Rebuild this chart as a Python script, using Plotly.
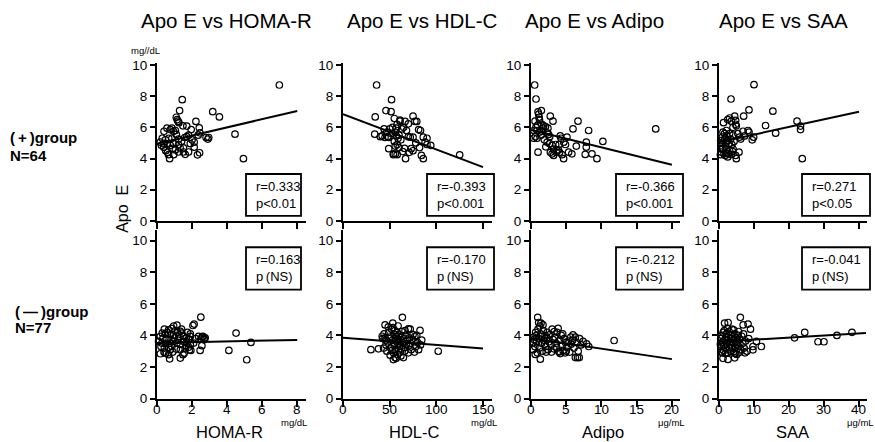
import plotly.graph_objects as go

W, H = 875, 442          # picture size (reference pixels)
H_CSS = 451              # page height that the photographed view covers
FONT = "Liberation Sans, Arial, Noto Sans CJK JP, sans-serif"

# ---------------- data ----------------
titles = ["Apo E vs HOMA-R", "Apo E vs HDL-C", "Apo E vs Adipo", "Apo E vs SAA"]
x_names = ["HOMA-R", "HDL-C", "Adipo", "SAA"]
x_units = ["mg/dL", "mg/dL", "μg/mL", "μg/mL"]
x_ticks = [[0, 2, 4, 6, 8], [0, 50, 100, 150], [0, 5, 10, 15, 20], [0, 10, 20, 30, 40]]
y_ticks = [0, 2, 4, 6, 8, 10]
row_labels = [["(\u2009+\u2009)group", "N=64"], ["(\u2009\u2014\u2009)group", "N=77"]]

stats_pos = [["r=0.333", "p<0.01"], ["r=-0.393", "p<0.001"], ["r=-0.366", "p<0.001"], ["r=0.271", "p<0.05"]]
stats_neg = [["r=0.163", "p\u2009(NS)"], ["r=-0.170", "p\u2009(NS)"], ["r=-0.212", "p\u2009(NS)"], ["r=-0.041", "p\u2009(NS)"]]

# (+) group, N=64
homa_pos_x = [6.98, 1.44, 1.29, 3.18, 3.56, 1.10, 1.15, 1.20, 1.25, 2.22, 1.70, 1.48, 2.41, 1.95, 0.57, 0.76,
              0.85, 0.40, 0.95, 1.05, 4.45, 2.45, 2.35, 2.80, 2.95, 2.90, 1.58, 1.70, 1.80, 0.30, 0.48, 0.67,
              0.85, 1.23, 0.19, 0.38, 0.57, 0.95, 1.23, 2.12, 2.12, 0.38, 0.76, 0.90, 1.32, 1.51, 1.23, 1.51,
              1.80, 0.66, 0.95, 1.61, 2.43, 2.31, 0.72, 4.93, 0.50, 1.05, 1.40, 2.00, 0.60, 1.10, 0.25, 1.90]
homa_pos_y = [8.72, 7.78, 7.08, 7.01, 6.67, 6.65, 6.50, 6.40, 6.30, 6.38, 6.08, 6.10, 5.97, 5.86, 5.95, 5.86,
              5.95, 5.75, 5.75, 5.80, 5.56, 5.65, 5.50, 5.35, 5.35, 5.25, 5.35, 5.40, 5.50, 5.30, 5.20, 5.30,
              5.30, 5.25, 5.05, 4.95, 4.95, 4.95, 4.90, 5.05, 4.73, 4.73, 4.85, 4.65, 4.68, 4.68, 4.42, 4.42,
              4.42, 4.25, 4.25, 4.27, 4.37, 4.24, 3.99, 3.99, 4.50, 4.55, 5.10, 5.20, 4.40, 5.55, 4.85, 4.95]
hdl_pos_x = [36, 52, 46, 51.5, 34.5, 55, 61, 66.5, 70, 75, 77, 79, 34, 42, 45, 49, 58, 57, 56, 50, 53, 81, 83,
             72, 75, 86, 88, 90, 94, 49, 54, 58, 64, 73, 75, 54, 56, 67, 84, 86, 125, 60, 62, 55, 58, 60, 68,
             70, 47, 52, 44, 63, 78, 82, 66, 48, 57, 59, 65, 71, 90, 40, 56, 61]
hdl_pos_y = [8.72, 7.78, 7.08, 7.01, 6.67, 6.57, 6.46, 6.38, 6.23, 6.72, 6.38, 6.38, 5.56, 5.45, 5.35, 5.35,
             6.20, 5.95, 5.70, 5.90, 6.00, 5.86, 5.80, 5.37, 5.37, 5.37, 5.05, 4.90, 4.85, 4.63, 4.30, 4.25,
             4.45, 4.63, 4.50, 4.25, 4.28, 3.99, 4.20, 3.99, 4.24, 5.50, 5.20, 5.10, 4.90, 4.70, 5.80, 5.40,
             5.70, 5.60, 5.90, 5.90, 5.00, 4.70, 4.65, 5.40, 5.45, 5.30, 6.00, 4.40, 5.30, 5.40, 4.80, 6.40]
adipo_pos_x = [0.52, 0.71, 1.00, 1.47, 1.10, 1.15, 1.20, 2.74, 3.12, 6.67, 0.57, 5.96, 8.18, 17.7, 1.55, 1.80,
               2.05, 0.40, 0.85, 1.25, 1.55, 0.40, 0.62, 0.85, 2.30, 2.50, 2.65, 4.15, 4.25, 5.10, 7.85, 7.85,
               10.2, 4.65, 4.90, 2.30, 2.65, 3.00, 3.20, 3.70, 3.90, 2.75, 3.00, 3.20, 4.05, 4.40, 6.43, 5.34,
               5.80, 7.70, 8.65, 9.36, 4.63, 1.00, 1.90, 1.40, 0.70, 3.50, 2.10, 4.00, 1.70, 0.95, 3.60, 2.40]
adipo_pos_y = [8.72, 7.82, 7.00, 7.08, 6.85, 6.65, 6.50, 6.72, 6.40, 6.40, 6.40, 5.90, 5.80, 5.90, 6.20, 6.10,
               6.05, 5.80, 5.80, 5.70, 5.75, 5.30, 5.40, 5.30, 5.65, 5.55, 5.40, 5.45, 5.30, 5.37, 5.05, 4.73,
               5.10, 5.05, 4.90, 5.05, 4.95, 4.85, 4.60, 4.50, 4.55, 4.40, 4.30, 4.20, 4.40, 4.25, 4.80, 4.41,
               4.30, 4.26, 4.30, 3.99, 3.99, 4.41, 5.20, 5.50, 6.00, 4.90, 4.75, 4.90, 5.95, 6.15, 4.40, 5.95]
saa_pos_x = [10.0, 3.43, 8.57, 15.4, 7.05, 2.48, 3.05, 3.52, 4.48, 4.76, 4.00, 4.95, 4.76, 13.3, 22.3, 23.3,
             23.3, 16.2, 8.30, 8.57, 6.86, 1.14, 2.10, 3.05, 4.00, 9.90, 9.50, 5.90, 7.33, 0.95, 1.62, 2.57,
             3.33, 0.48, 1.14, 1.90, 2.86, 1.14, 2.10, 3.05, 4.00, 0.67, 1.43, 2.29, 3.52, 5.71, 4.76, 4.95,
             23.8, 0.40, 1.80, 2.70, 0.90, 1.60, 2.20, 3.70, 4.30, 5.40, 6.20, 0.60, 2.50, 3.90, 1.30, 2.00]
saa_pos_y = [8.74, 7.82, 7.12, 7.04, 6.72, 6.50, 6.60, 6.40, 6.72, 6.45, 6.00, 6.10, 6.20, 6.12, 6.40, 6.08,
             5.86, 5.63, 5.80, 5.70, 5.75, 5.70, 5.80, 5.60, 5.50, 5.37, 5.20, 5.37, 5.45, 5.37, 5.25, 5.15,
             5.25, 5.15, 4.95, 4.80, 4.95, 4.67, 4.58, 4.52, 4.62, 4.41, 4.30, 4.35, 4.26, 4.41, 4.20, 3.99,
             3.99, 4.25, 4.20, 4.30, 4.60, 5.60, 5.45, 4.90, 5.10, 5.60, 5.25, 5.00, 4.10, 4.45, 6.30, 5.05]

# (-) group, N=77
homa_neg_x = [2.50, 2.12, 2.05, 1.14, 0.42, 0.66, 0.85, 1.04, 1.17, 1.33, 1.42, 1.74, 1.90, 4.51, 0.30, 0.47,
              0.76, 0.95, 0.19, 0.34, 0.57, 0.80, 1.52, 1.67, 1.80, 1.90, 2.37, 2.56, 2.69, 2.62, 2.50, 2.69,
              0.09, 0.28, 0.47, 0.72, 0.95, 1.14, 1.33, 1.52, 1.71, 1.90, 2.09, 2.56, 5.36, 0.23, 0.42, 0.66,
              0.85, 1.10, 1.33, 1.61, 1.86, 1.93, 2.46, 4.10, 0.47, 0.19, 0.66, 1.48, 1.55, 0.72, 1.33, 5.12,
              1.00, 1.20, 0.60, 1.40, 2.20, 0.40, 0.90, 1.25, 0.75, 1.65, 2.75, 0.95, 1.80]
homa_neg_y = [5.16, 4.72, 4.63, 4.65, 4.40, 4.36, 4.45, 4.30, 4.20, 4.26, 4.15, 4.20, 4.10, 4.15, 4.15, 4.08,
              4.04, 4.02, 3.94, 3.83, 3.77, 3.73, 3.94, 3.83, 3.79, 3.94, 3.94, 3.90, 3.83, 3.94, 3.77, 3.73,
              3.62, 3.52, 3.47, 3.52, 3.62, 3.52, 3.43, 3.62, 3.52, 3.41, 3.52, 3.35, 3.56, 3.30, 3.20, 3.26,
              3.30, 3.14, 3.09, 3.16, 3.09, 3.05, 3.05, 3.05, 2.88, 2.84, 2.78, 2.78, 2.88, 2.52, 2.57, 2.46,
              3.85, 3.70, 4.20, 4.40, 3.80, 2.95, 2.95, 3.95, 3.10, 3.35, 3.85, 4.60, 3.25]
hdl_neg_x = [63.6, 45.1, 53.3, 70.0, 82.5, 29.9, 102, 84.3, 64.7, 54.0, 55.8, 38.0, 42.0, 42.5, 44.0, 45.0,
             46.0, 47.0, 48.0, 49.0, 50.0, 51.0, 52.0, 53.0, 54.0, 54.5, 55.0, 55.5, 56.0, 56.5, 57.0, 57.5,
             58.0, 58.5, 59.0, 59.5, 60.0, 60.5, 61.0, 62.0, 62.5, 63.0, 64.0, 65.0, 66.0, 67.0, 68.0, 69.0,
             70.0, 71.0, 72.0, 72.5, 73.0, 74.0, 75.0, 76.0, 77.0, 78.0, 79.0, 80.0, 81.0, 83.0, 43.5, 50.5,
             52.5, 57.0, 61.5, 66.5, 48.5, 53.5, 59.0, 62.0, 46.0, 70.5, 76.5, 65.5, 55.0]
hdl_neg_y = [5.15, 4.67, 4.78, 4.42, 4.32, 3.10, 3.00, 3.70, 2.60, 2.47, 2.60, 3.15, 3.95, 3.80, 4.10, 3.85,
             3.40, 3.00, 3.60, 4.20, 3.90, 3.20, 4.40, 3.70, 2.90, 4.10, 3.50, 4.30, 3.80, 3.10, 3.95, 3.60,
             4.20, 2.80, 3.40, 3.75, 4.05, 3.30, 3.60, 3.90, 3.15, 4.25, 3.55, 3.80, 3.00, 4.00, 3.45, 3.70,
             2.90, 3.85, 4.40, 3.50, 3.10, 3.75, 4.05, 3.60, 3.95, 3.30, 4.00, 3.55, 3.10, 3.40, 3.20, 2.75,
             3.05, 2.55, 2.95, 4.30, 4.55, 4.50, 4.60, 2.70, 3.70, 3.35, 2.95, 3.25, 3.35]
adipo_neg_x = [0.95, 1.09, 1.42, 1.70, 11.8, 1.32, 6.30, 6.60, 6.85, 7.40, 7.90, 5.96, 8.20, 0.30, 0.40, 0.55,
               0.65, 0.80, 0.90, 1.00, 1.10, 1.20, 1.35, 1.50, 1.60, 1.75, 1.85, 2.00, 2.10, 2.25, 2.40, 2.55,
               2.70, 2.85, 3.00, 3.10, 3.25, 3.40, 3.55, 3.70, 3.85, 3.95, 4.05, 4.15, 4.30, 4.40, 4.55, 4.70,
               4.90, 5.10, 5.30, 5.50, 5.70, 5.90, 6.10, 6.30, 6.50, 6.70, 6.90, 7.10, 0.35, 0.60, 1.25, 2.30,
               2.90, 3.30, 4.00, 4.50, 5.00, 0.75, 1.55, 2.15, 3.65, 4.85, 5.65, 0.45, 1.95]
adipo_neg_y = [5.15, 4.82, 4.78, 4.67, 3.68, 2.50, 2.60, 2.60, 2.60, 3.62, 3.47, 4.04, 3.30, 3.10, 3.90, 3.30,
               4.20, 3.60, 2.90, 4.40, 3.80, 3.20, 4.10, 3.50, 3.00, 4.30, 3.70, 4.00, 3.30, 3.85, 3.10, 3.60,
               4.05, 3.40, 4.40, 3.75, 3.15, 3.90, 3.50, 4.20, 4.45, 3.00, 3.70, 2.85, 4.00, 3.35, 3.05, 3.80,
               3.55, 3.25, 3.65, 2.95, 3.45, 3.70, 3.20, 3.90, 3.55, 3.00, 3.80, 3.40, 3.55, 2.80, 4.60, 4.20,
               2.95, 4.25, 2.95, 4.10, 3.00, 4.00, 3.95, 2.95, 3.25, 2.90, 3.90, 3.75, 3.45]
saa_neg_x = [6.10, 1.60, 2.60, 6.90, 8.30, 9.00, 12.1, 10.7, 21.6, 24.5, 28.3, 30.0, 33.7, 38.0, 1.14, 2.57,
             4.48, 9.70, 9.70, 0.50, 0.70, 0.90, 1.10, 1.30, 1.50, 1.70, 1.90, 2.10, 2.30, 2.50, 2.70, 2.90,
             3.10, 3.30, 3.50, 3.70, 3.90, 4.10, 4.30, 4.50, 4.70, 4.90, 5.10, 5.30, 5.50, 5.70, 5.90, 6.20,
             6.50, 6.80, 7.20, 7.60, 8.00, 8.50, 0.60, 0.80, 1.20, 1.40, 1.80, 2.20, 2.40, 3.00, 3.40, 3.80,
             4.20, 4.60, 5.00, 5.60, 6.00, 7.00, 7.40, 0.40, 1.00, 2.00, 3.20, 4.00, 5.20]
saa_neg_y = [5.15, 4.78, 4.82, 4.67, 4.72, 4.40, 3.30, 3.62, 3.85, 4.19, 3.60, 3.60, 4.00, 4.20, 2.55, 2.48,
             2.58, 3.30, 3.09, 3.80, 3.30, 4.00, 3.60, 3.05, 4.30, 3.75, 3.20, 4.10, 3.50, 2.90, 3.90, 4.25,
             3.40, 3.00, 3.80, 4.40, 3.55, 2.95, 3.70, 4.10, 3.25, 3.85, 2.80, 3.60, 4.00, 3.30, 3.75, 3.10,
             3.95, 3.50, 3.20, 3.65, 3.00, 3.80, 2.95, 3.55, 4.20, 3.35, 2.85, 3.65, 4.45, 3.15, 4.05, 3.25,
             4.35, 2.85, 3.45, 4.25, 2.95, 4.10, 2.90, 3.45, 2.90, 3.90, 3.60, 3.90, 3.15]

# regression line end points
fit_pos_x = [[0, 8], [0, 150], [0, 20], [0, 40]]
fit_pos_y = [[4.95, 7.05], [6.85, 3.45], [5.83, 3.60], [5.05, 7.00]]
fit_neg_x = [[0, 8], [0, 150], [0, 20], [0, 42]]
fit_neg_y = [[3.53, 3.72], [3.85, 3.18], [3.83, 2.50], [3.60, 4.15]]

pos_x = [homa_pos_x, hdl_pos_x, adipo_pos_x, saa_pos_x]
pos_y = [homa_pos_y, hdl_pos_y, adipo_pos_y, saa_pos_y]
neg_x = [homa_neg_x, hdl_neg_x, adipo_neg_x, saa_neg_x]
neg_y = [homa_neg_y, hdl_neg_y, adipo_neg_y, saa_neg_y]

# ---------------- layout (reference pixels) ----------------
x_left = [157, 343, 531, 719]
x_right = [306, 492, 680, 867]
x_range_max = [8.5, 159.6, 21.15, 42.3]
row_top_px = [60.4, 227.9]
row_bot_px = [219.0, 397.3]
y_range_max = [10.15, 10.7]


def px(x):
    return x / W


def py(y):
    # small correction for the vertical offset seen in the photographed page
    return 1 - ((y - 2.5) / 0.994) / H


fig = go.Figure()
layout = dict(
    width=W, height=H_CSS, autosize=False,
    margin=dict(l=0, r=0, t=0, b=0),
    paper_bgcolor="white", plot_bgcolor="white",
    showlegend=False,
    font=dict(family=FONT, color="black"),
)

annotations = []
shapes = []


def ann(text, x, y, size, xanchor="center", yanchor="middle", angle=0, xref="paper", xval=None):
    annotations.append(dict(text=text, x=(px(x) if xval is None else xval), y=py(y),
                            xref=xref, yref="paper",
                            showarrow=False, xanchor=xanchor, yanchor=yanchor, textangle=angle,
                            font=dict(family=FONT, size=size, color="black")))


n = 0
for r in range(2):
    xs_all = pos_x if r == 0 else neg_x
    ys_all = pos_y if r == 0 else neg_y
    fx_all = fit_pos_x if r == 0 else fit_neg_x
    fy_all = fit_pos_y if r == 0 else fit_neg_y
    for c in range(4):
        n += 1
        xa = "x" if n == 1 else f"x{n}"
        ya = "y" if n == 1 else f"y{n}"
        fig.add_trace(go.Scatter(x=xs_all[c], y=ys_all[c], mode="markers", xaxis=xa, yaxis=ya,
                                 marker=dict(symbol="circle-open", size=6.5, color="black",
                                             line=dict(width=1.2, color="black")),
                                 cliponaxis=False))
        fig.add_trace(go.Scatter(x=fx_all[c], y=fy_all[c], mode="lines", xaxis=xa, yaxis=ya,
                                 line=dict(color="black", width=2)))
        xkey = "xaxis" if n == 1 else f"xaxis{n}"
        ykey = "yaxis" if n == 1 else f"yaxis{n}"
        layout[xkey] = dict(
            domain=[px(x_left[c]), px(x_right[c])], anchor=ya,
            range=[0, x_range_max[c]], tickvals=x_ticks[c],
            showticklabels=False, ticks="outside", ticklen=6, tickwidth=1.5,
            tickcolor="black", showline=True, linecolor="black", linewidth=2,
            showgrid=False, zeroline=False, fixedrange=True,
        )
        layout[ykey] = dict(
            domain=[py(row_bot_px[r]), py(row_top_px[r])], anchor=xa,
            range=[0, y_range_max[r]], tickvals=y_ticks,
            ticks="outside", ticklen=5, tickwidth=1.5, tickcolor="black",
            showline=True, linecolor="black", linewidth=2,
            showgrid=False, zeroline=False, fixedrange=True,
            tickfont=dict(family=FONT, size=13.5, color="black"),
        )
        # x tick labels of the bottom row, placed on the axis scale
        if r == 1:
            for t in x_ticks[c]:
                ann(str(t), 0, 408, 13.5, xref=xa, xval=t)

# titles
title_cx = [226, 422, 594, 783]
for c in range(4):
    ann(titles[c], title_cx[c], 18, 20.5)

# stats boxes
box_x0 = [246, 427, 616, 802]
box_x1 = [301, 494, 683, 870]
box_top = [172, 245.5]
box_bot = [214, 288]
for r in range(2):
    stats = stats_pos if r == 0 else stats_neg
    for c in range(4):
        shapes.append(dict(type="rect", xref="paper", yref="paper",
                           x0=px(box_x0[c]), x1=px(box_x1[c]),
                           y0=py(box_bot[r]), y1=py(box_top[r]),
                           line=dict(color="black", width=1.8), fillcolor="white", layer="below"))
        ann(stats[c][0], box_x0[c] + 8, box_top[r] + 12.5, 13, xanchor="left")
        ann(stats[c][1], box_x0[c] + 8, box_top[r] + 29.5, 13, xanchor="left")

# x axis names and units
name_cx = [229, 414, 603, 792]
unit_cx = [294, 484, 671, 860]
for c in range(4):
    ann(x_names[c], name_cx[c], 431, 16.5)
    ann(x_units[c], unit_cx[c], 421, 9.5)

# y label + unit
ann("Apo\u00a0\u00a0E", 123, 207, 16, angle=-90)
ann("mg//dL", 145, 48, 9.5)

# row labels
ann(row_labels[0][0], 8, 135, 15, xanchor="left")
ann(row_labels[0][1], 8, 153, 15, xanchor="left")
ann(row_labels[1][0], 13, 310, 15, xanchor="left")
ann(row_labels[1][1], 13, 326, 15, xanchor="left")
for a in annotations[-4:]:
    a["text"] = "<b>" + a["text"] + "</b>"

layout["annotations"] = annotations
layout["shapes"] = shapes
fig.update_layout(**layout)

page_fix = (
    "var h=document.documentElement,b=document.body;"
    "h.style.margin='0';h.style.padding='0';h.style.overflow='hidden';"
    "b.style.margin='0';b.style.padding='0';b.style.overflow='hidden';"
    "var d=document.getElementById('{plot_id}');"
    "d.style.position='fixed';d.style.left='0px';d.style.top='0px';"
)
fig.write_html("out.html", config={"displayModeBar": False}, post_script=page_fix)
